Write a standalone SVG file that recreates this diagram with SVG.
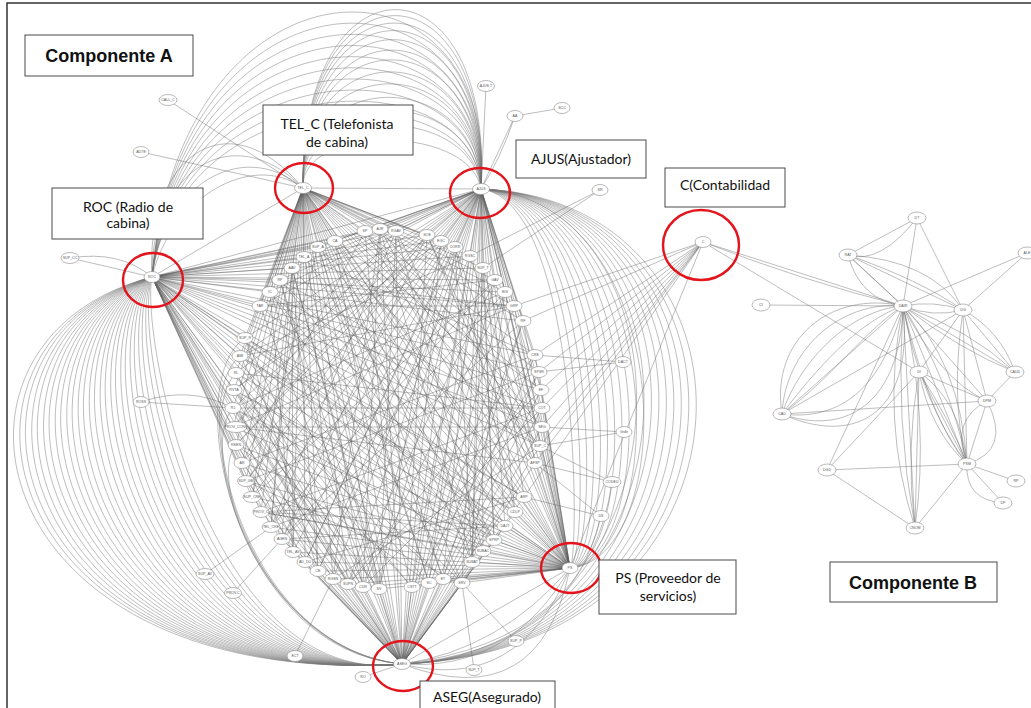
<svg xmlns="http://www.w3.org/2000/svg" width="1031" height="708" viewBox="0 0 1031 708">
<style>
.e{fill:none;stroke:#5e5e5e;stroke-width:.55;stroke-opacity:.75}
.a{fill:none;stroke:#777;stroke-width:.6;stroke-opacity:.8}
.n ellipse{fill:#fff;stroke:#8a8a8a;stroke-width:.6}
.n text{font-family:"Liberation Sans",Arial,sans-serif;font-size:3.6px;fill:#555;text-anchor:middle}
.box rect{fill:#fff;stroke:#4a4a4a;stroke-width:1}
.box text{font-family:Lato,"Open Sans",sans-serif;font-size:14px;fill:#111;text-anchor:middle}
.ttl text{font-family:"Liberation Sans",Arial,sans-serif;font-weight:bold;font-size:18px}
.hl{fill:none;stroke:#e3141b;stroke-width:2.4}
</style>
<rect x="0" y="0" width="1031" height="708" fill="#fff"/>
<rect x="7" y="3" width="1030" height="712" fill="none" stroke="#333" stroke-width="1.5"/>
<g id="connectors">
<path class="e" d="M303 188L260 306M303 188L270 292M303 188L280 280M303 188L292 268M303 188L304 257M303 188L318 247M303 188L335 241M303 188L365 231M303 188L380 229M303 188L396 231M303 188L427 235M303 188L441 241M303 188L455 247M303 188L470 256M303 188L483 268M303 188L495 280M303 188L505 292M303 188L514 306M303 188L523 321M303 188L535 355M303 188L539 372M303 188L541 390M303 188L542 408M303 188L542 427M303 188L540 446M303 188L535 463M303 188L524 497M303 188L515 512M303 188L505 526M303 188L494 540M303 188L483 551M303 188L472 562M303 188L462 583M303 188L443 579M303 188L429 583M303 188L412 587M303 188L379 589M303 188L363 587M303 188L348 584M303 188L333 579M303 188L318 571M303 188L305 562M303 188L293 552M303 188L282 539M303 188L271 527M303 188L261 512M303 188L252 497M303 188L246 481M303 188L242 463M303 188L236 445M303 188L233 427M303 188L233 408M303 188L234 390M303 188L236 373M303 188L240 356M303 188L245 338"/>
<path class="e" d="M481 189L260 306M481 189L270 292M481 189L280 280M481 189L292 268M481 189L304 257M481 189L318 247M481 189L335 241M481 189L365 231M481 189L380 229M481 189L396 231M481 189L427 235M481 189L441 241M481 189L455 247M481 189L470 256M481 189L483 268M481 189L495 280M481 189L505 292M481 189L514 306M481 189L523 321M481 189L535 355M481 189L539 372M481 189L541 390M481 189L542 408M481 189L542 427M481 189L540 446M481 189L535 463M481 189L524 497M481 189L515 512M481 189L505 526M481 189L494 540M481 189L483 551M481 189L472 562M481 189L462 583M481 189L443 579M481 189L429 583M481 189L412 587M481 189L379 589M481 189L363 587M481 189L348 584M481 189L333 579M481 189L318 571M481 189L305 562M481 189L293 552M481 189L282 539M481 189L271 527M481 189L261 512M481 189L252 497M481 189L246 481M481 189L242 463M481 189L236 445M481 189L233 427M481 189L233 408M481 189L234 390M481 189L236 373M481 189L240 356M481 189L245 338"/>
<path class="e" d="M402 664L260 306M402 664L270 292M402 664L280 280M402 664L292 268M402 664L304 257M402 664L318 247M402 664L335 241M402 664L365 231M402 664L380 229M402 664L396 231M402 664L427 235M402 664L441 241M402 664L455 247M402 664L470 256M402 664L483 268M402 664L495 280M402 664L505 292M402 664L514 306M402 664L523 321M402 664L535 355M402 664L539 372M402 664L541 390M402 664L542 408M402 664L542 427M402 664L540 446M402 664L535 463M402 664L524 497M402 664L515 512M402 664L505 526M402 664L494 540M402 664L483 551M402 664L472 562M402 664L462 583M402 664L443 579M402 664L429 583M402 664L412 587M402 664L379 589M402 664L363 587M402 664L348 584M402 664L333 579M402 664L318 571M402 664L305 562M402 664L293 552M402 664L282 539M402 664L271 527M402 664L261 512M402 664L252 497M402 664L246 481M402 664L242 463M402 664L236 445M402 664L233 427M402 664L233 408M402 664L234 390M402 664L236 373M402 664L240 356M402 664L245 338"/>
<path class="e" d="M570 568L260 306M570 568L270 292M570 568L280 280M570 568L292 268M570 568L304 257M570 568L318 247M570 568L335 241M570 568L365 231M570 568L380 229M570 568L396 231M570 568L427 235M570 568L441 241M570 568L455 247M570 568L470 256M570 568L483 268M570 568L495 280M570 568L505 292M570 568L514 306M570 568L523 321M570 568L535 355M570 568L539 372M570 568L541 390M570 568L542 408M570 568L542 427M570 568L540 446M570 568L535 463M570 568L524 497M570 568L515 512M570 568L505 526M570 568L494 540M570 568L483 551M570 568L472 562M570 568L462 583M570 568L443 579M570 568L429 583M570 568L412 587M570 568L379 589M570 568L363 587M570 568L348 584M570 568L333 579M570 568L318 571M570 568L305 562M570 568L293 552M570 568L282 539M570 568L271 527M570 568L261 512M570 568L252 497M570 568L246 481M570 568L242 463M570 568L236 445M570 568L233 427M570 568L233 408M570 568L234 390M570 568L236 373M570 568L240 356M570 568L245 338"/>
<path class="e" d="M152 277L260 306M152 277L270 292M152 277L280 280M152 277L292 268M152 277L304 257M152 277L318 247M152 277L335 241M152 277L365 231M152 277L380 229M152 277L396 231M152 277L427 235M152 277L441 241M152 277L455 247M152 277L470 256M152 277L483 268M152 277L495 280M152 277L505 292M152 277L514 306M152 277L523 321M152 277L535 355M152 277L539 372M152 277L541 390M152 277L542 408M152 277L542 427M152 277L540 446M152 277L535 463M152 277L524 497M152 277L515 512M152 277L505 526M152 277L494 540M152 277L483 551M152 277L472 562M152 277L462 583M152 277L443 579M152 277L429 583M152 277L412 587M152 277L379 589M152 277L363 587M152 277L348 584M152 277L333 579M152 277L318 571M152 277L305 562M152 277L293 552M152 277L282 539M152 277L271 527M152 277L261 512M152 277L252 497M152 277L246 481M152 277L242 463M152 277L236 445M152 277L233 427M152 277L233 408M152 277L234 390M152 277L236 373M152 277L240 356M152 277L245 338"/>
<path class="e" d="M260 306L514 306M270 292L483 551M280 280L542 427M292 268L379 589M304 257L494 540M318 247L540 446M335 241L443 579M365 231L540 446M380 229L363 587M396 231L483 551M427 235L282 539M441 241L379 589M455 247L472 562M470 256L318 571M483 268L472 562M495 280L271 527M505 292L363 587M514 306L233 427M523 321L282 539M535 355L348 584M539 372L246 481M541 390L348 584M542 408L233 408M542 427L271 527M540 446L270 292M535 463L233 427M524 497L261 512M515 512L240 356M505 526L261 512M494 540L280 280M483 551L233 408M472 562L380 229M462 583L270 292M443 579L234 390M429 583L318 247M412 587L234 390M379 589L396 231M363 587L280 280M348 584L495 280M333 579L380 229M318 571L292 268M305 562L455 247M293 552L292 268M282 539L505 292M271 527L396 231M261 512L542 408M252 497L495 280M246 481L427 235M242 463L535 355M236 445L427 235M233 427L542 427M233 408L505 292M234 390L494 540M236 373L542 408M240 356L514 306M245 338L524 497"/>
<path class="e" d="M260 306L495 280M280 280L514 306M304 257L535 355M335 241L541 390M380 229L542 427M427 235L535 463M455 247L515 512M483 268L494 540M505 292L472 562M523 321L443 579M539 372L412 587M542 408L363 587M540 446L333 579M524 497L305 562M505 526L282 539M483 551L261 512M462 583L246 481M429 583L236 445M379 589L233 408M348 584L236 373M318 571L245 338M293 552L270 292M271 527L292 268M252 497L318 247M242 463L365 231M233 427L396 231M234 390L441 241M240 356L470 256"/>
<path class="e" d="M303 188L481 189M152 277L303 188M152 277L481 189M303 188L570 568M481 189L570 568M152 277L402 664M152 277L570 568M402 664L570 568M703 242L523 321M703 242L514 306M703 242L535 355M703 242L539 372M703 242L541 390M703 242L542 408M703 242L542 427M703 242L540 446M703 242L535 463M703 242L524 497M703 242L570 568"/>
<path class="a" d="M303 188C300 124 470 124 481 189M303 188C300 104 472 104 481 189M303 188C300 84 474 84 481 189M303 188C300 67 476 67 481 189M303 188C300 49 478 49 481 189M303 188C300 33 480 33 481 189M303 188C300 17 482 17 481 189M303 188C300 4 484 4 481 189M303 188C300 -10 486 -10 481 189M303 188C300 -22 488 -22 481 189M303 188C300 -32 490 -32 481 189M303 188C300 -42 492 -42 481 189M303 188C300 -50 494 -50 481 189"/>
<path class="a" d="M152 277C180 -60 500 -60 481 189M152 277C180 -45 497 -45 481 189M152 277C180 -30 494 -30 481 189M152 277C180 -15 491 -15 481 189M152 277C180 0 488 0 481 189M152 277C180 15 485 15 481 189M152 277C180 30 482 30 481 189M152 277C180 45 479 45 481 189M152 277C180 60 476 60 481 189M152 277C180 75 473 75 481 189M152 277C170 200 250 150 303 188M152 277C160 190 240 135 303 188M152 277C150 175 230 115 303 188M152 277C145 160 225 95 303 188"/>
<path class="a" d="M481 189C580 200 580 560 570 568M481 189C590 200 590 560 570 568M481 189C600 200 600 560 570 568M481 189C610 200 610 560 570 568M481 189C620 200 620 560 570 568M481 189C630 200 630 560 570 568M481 189C640 200 640 560 570 568M481 189C650 200 650 560 570 568M481 189C660 200 660 560 570 568M481 189C670 200 670 560 570 568M481 189C680 200 680 560 570 568M481 189C700 200 700 650 402 664M481 189C710 200 710 650 402 664M481 189C720 200 720 650 402 664M481 189C730 200 730 650 402 664M481 189C740 200 740 650 402 664M481 189C750 200 750 650 402 664M481 189C760 200 760 650 402 664M481 189C770 200 770 650 402 664M481 189C780 200 780 650 402 664M402 664Q500 650 570 568M402 664Q510 672 570 568M402 664Q520 694 570 568M402 664Q540 716 570 568M402 664Q570 650 601 516M402 664Q590 640 612 482"/>
<path class="a" d="M152 277C-90 340 -20 690 402 664M152 277C-81 340 -11 690 402 664M152 277C-73 340 -3 690 402 664M152 277C-64 340 6 690 402 664M152 277C-56 340 14 690 402 664M152 277C-47 340 23 690 402 664M152 277C-39 340 31 690 402 664M152 277C-30 340 40 690 402 664M152 277C-22 340 48 690 402 664M152 277C-13 340 57 690 402 664M152 277C-5 340 65 690 402 664M152 277C4 340 74 690 402 664M152 277C12 340 82 690 402 664M152 277C21 340 91 690 402 664M152 277C29 340 99 690 402 664M152 277C38 340 108 690 402 664M152 277C46 340 116 690 402 664M152 277C55 340 125 690 402 664M152 277C63 340 133 690 402 664M152 277C72 340 142 690 402 664M152 277C80 340 150 690 402 664M152 277C89 340 159 690 402 664M152 277C97 340 167 690 402 664M152 277C106 340 176 690 402 664M152 277C114 340 184 690 402 664M152 277C123 340 193 690 402 664M152 277C131 340 201 690 402 664M152 277C140 340 210 690 402 664M245 338C180 380 230 650 402 664M240 356C185 400 240 650 402 664M236 373C190 420 250 650 402 664M233 408C195 450 260 650 402 664M236 445C205 480 270 650 402 664"/>
<path class="e" d="M168 100L303 188M141 152L303 188M70 258L152 277M70 258Q120 250 152 277M486 86L481 189M515 116L481 189M515 116Q500 160 481 189M515 116L562 108M600 190L470 256M600 190L483 268M141 402L233 408M141 402Q190 385 233 408M205 574L271 527M233 593L282 539M295 656L333 579M363 677L402 664M474 670L462 583M516 641L462 583M623 362L535 355M623 362L539 372M624 432L540 446M624 432L542 427M612 482L540 446M612 482L535 463M601 516L524 497M601 516L535 463"/>
<path class="a" d="M917 218L848 255M917 218Q880 265 848 255M917 218L903 306M917 218L963 310M848 255Q860 300 903 306M848 255Q880 285 903 306M848 255L903 306M848 255Q930 260 963 310M848 255Q920 280 963 310M848 255L963 310M1027 253L903 306M1027 253L963 310M761 305L903 306M703 242L903 306M703 242Q800 280 903 306M703 242L919 372M903 306Q933 300 963 310M903 306Q933 318 963 310M782 414C770 340 830 290 903 306M782 414C785 350 840 300 903 306M782 414C800 360 850 310 903 306M782 414C815 370 860 320 903 306M782 414C830 380 865 330 903 306M782 414L903 306M782 414C830 420 880 400 903 306M782 414C840 435 900 410 903 306M782 414C850 445 915 420 903 306M903 306L1015 372M903 306Q970 330 1015 372M903 306Q960 350 1015 372M903 306L987 401M903 306Q940 380 987 401M903 306L967 464M903 306Q920 400 967 464M903 306Q950 380 967 464M903 306Q930 420 967 464M903 306Q960 360 967 464M903 306L915 528M903 306Q880 420 915 528M903 306Q895 420 915 528M903 306Q930 420 915 528M903 306L827 470M963 310L1015 372M963 310Q1000 330 1015 372M963 310L967 464M963 310Q950 400 967 464M963 310L782 414M963 310L987 401M963 310L919 372M919 372L967 464M919 372Q930 430 967 464M919 372Q950 420 967 464M919 372Q960 400 967 464M919 372L915 528M919 372Q905 450 915 528M919 372L827 470M919 372L987 401M1015 372L987 401M782 414L987 401M987 401L967 464M987 401Q1012 450 967 464M987 401Q950 420 967 464M967 464L827 470M967 464L1016 481M967 464L1003 503M967 464Q965 500 1003 503M827 470L915 528M967 464L915 528"/>
</g>
<g id="n-tar" class="n"><ellipse cx="260" cy="306" rx="8" ry="5.5"/><text x="260" y="307.3">TAR</text></g>
<g id="n-ic" class="n"><ellipse cx="270" cy="292" rx="8" ry="5.5"/><text x="270" y="293.3">IC</text></g>
<g id="n-rp" class="n"><ellipse cx="280" cy="280" rx="8" ry="5.5"/><text x="280" y="281.3">RP</text></g>
<g id="n-aav" class="n"><ellipse cx="292" cy="268" rx="8" ry="5.5"/><text x="292" y="269.3">AAV</text></g>
<g id="n-tela" class="n"><ellipse cx="304" cy="257" rx="8" ry="5.5"/><text x="304" y="258.3">TEL_A</text></g>
<g id="n-supa" class="n"><ellipse cx="318" cy="247" rx="8" ry="5.5"/><text x="318" y="248.3">SUP_A</text></g>
<g id="n-ca" class="n"><ellipse cx="335" cy="241" rx="8" ry="5.5"/><text x="335" y="242.3">CA</text></g>
<g id="n-sp" class="n"><ellipse cx="365" cy="231" rx="8" ry="5.5"/><text x="365" y="232.3">SP</text></g>
<g id="n-ajr" class="n"><ellipse cx="380" cy="229" rx="8" ry="5.5"/><text x="380" y="230.3">AJR</text></g>
<g id="n-rgav" class="n"><ellipse cx="396" cy="231" rx="8" ry="5.5"/><text x="396" y="232.3">RGAV</text></g>
<g id="n-soe" class="n"><ellipse cx="427" cy="235" rx="8" ry="5.5"/><text x="427" y="236.3">SOE</text></g>
<g id="n-egc" class="n"><ellipse cx="441" cy="241" rx="8" ry="5.5"/><text x="441" y="242.3">EGC</text></g>
<g id="n-corr" class="n"><ellipse cx="455" cy="247" rx="8" ry="5.5"/><text x="455" y="248.3">CORR</text></g>
<g id="n-rgsc" class="n"><ellipse cx="470" cy="256" rx="8" ry="5.5"/><text x="470" y="257.3">RGSC</text></g>
<g id="n-supt" class="n"><ellipse cx="483" cy="268" rx="8" ry="5.5"/><text x="483" y="269.3">SUP_T</text></g>
<g id="n-gav" class="n"><ellipse cx="495" cy="280" rx="8" ry="5.5"/><text x="495" y="281.3">GAV</text></g>
<g id="n-egi" class="n"><ellipse cx="505" cy="292" rx="8" ry="5.5"/><text x="505" y="293.3">EGI</text></g>
<g id="n-grp" class="n"><ellipse cx="514" cy="306" rx="8" ry="5.5"/><text x="514" y="307.3">GRP</text></g>
<g id="n-rf" class="n"><ellipse cx="523" cy="321" rx="8" ry="5.5"/><text x="523" y="322.3">RF</text></g>
<g id="n-cre" class="n"><ellipse cx="535" cy="355" rx="8" ry="5.5"/><text x="535" y="356.3">CRE</text></g>
<g id="n-spsr" class="n"><ellipse cx="539" cy="372" rx="8" ry="5.5"/><text x="539" y="373.3">SPSR</text></g>
<g id="n-ef" class="n"><ellipse cx="541" cy="390" rx="8" ry="5.5"/><text x="541" y="391.3">EF</text></g>
<g id="n-cot" class="n"><ellipse cx="542" cy="408" rx="8" ry="5.5"/><text x="542" y="409.3">COT</text></g>
<g id="n-seg" class="n"><ellipse cx="542" cy="427" rx="8" ry="5.5"/><text x="542" y="428.3">SEG</text></g>
<g id="n-supc" class="n"><ellipse cx="540" cy="446" rx="8" ry="5.5"/><text x="540" y="447.3">SUP_C</text></g>
<g id="n-afsp" class="n"><ellipse cx="535" cy="463" rx="8" ry="5.5"/><text x="535" y="464.3">AFSP</text></g>
<g id="n-arp" class="n"><ellipse cx="524" cy="497" rx="8" ry="5.5"/><text x="524" y="498.3">ARP</text></g>
<g id="n-cdlp" class="n"><ellipse cx="515" cy="512" rx="8" ry="5.5"/><text x="515" y="513.3">CDLP</text></g>
<g id="n-dajt" class="n"><ellipse cx="505" cy="526" rx="8" ry="5.5"/><text x="505" y="527.3">DAJT</text></g>
<g id="n-sprp" class="n"><ellipse cx="494" cy="540" rx="8" ry="5.5"/><text x="494" y="541.3">SPRP</text></g>
<g id="n-subac" class="n"><ellipse cx="483" cy="551" rx="8" ry="5.5"/><text x="483" y="552.3">SUBAC</text></g>
<g id="n-subat" class="n"><ellipse cx="472" cy="562" rx="8" ry="5.5"/><text x="472" y="563.3">SUBAT</text></g>
<g id="n-srv" class="n"><ellipse cx="462" cy="583" rx="8" ry="5.5"/><text x="462" y="584.3">SRV</text></g>
<g id="n-et" class="n"><ellipse cx="443" cy="579" rx="8" ry="5.5"/><text x="443" y="580.3">ET</text></g>
<g id="n-sc" class="n"><ellipse cx="429" cy="583" rx="8" ry="5.5"/><text x="429" y="584.3">SC</text></g>
<g id="n-cstt" class="n"><ellipse cx="412" cy="587" rx="8" ry="5.5"/><text x="412" y="588.3">CSTT</text></g>
<g id="n-sv" class="n"><ellipse cx="379" cy="589" rx="8" ry="5.5"/><text x="379" y="590.3">SV</text></g>
<g id="n-cdr" class="n"><ellipse cx="363" cy="587" rx="8" ry="5.5"/><text x="363" y="588.3">CDR</text></g>
<g id="n-supn" class="n"><ellipse cx="348" cy="584" rx="8" ry="5.5"/><text x="348" y="585.3">SUPN</text></g>
<g id="n-rgsn" class="n"><ellipse cx="333" cy="579" rx="8" ry="5.5"/><text x="333" y="580.3">RGSN</text></g>
<g id="n-ce" class="n"><ellipse cx="318" cy="571" rx="8" ry="5.5"/><text x="318" y="572.3">CE</text></g>
<g id="n-addu" class="n"><ellipse cx="305" cy="562" rx="8" ry="5.5"/><text x="305" y="563.3">AD_DU</text></g>
<g id="n-telav" class="n"><ellipse cx="293" cy="552" rx="8" ry="5.5"/><text x="293" y="553.3">TEL_AV</text></g>
<g id="n-agen" class="n"><ellipse cx="282" cy="539" rx="8" ry="5.5"/><text x="282" y="540.3">AGEN</text></g>
<g id="n-telcre" class="n"><ellipse cx="271" cy="527" rx="9" ry="5.5"/><text x="271" y="528.3">TEL_CRE</text></g>
<g id="n-provc" class="n"><ellipse cx="261" cy="512" rx="8" ry="5.5"/><text x="261" y="513.3">PROV_C</text></g>
<g id="n-supcre" class="n"><ellipse cx="252" cy="497" rx="9" ry="5.5"/><text x="252" y="498.3">SUP_CRE</text></g>
<g id="n-supgm" class="n"><ellipse cx="246" cy="481" rx="8.5" ry="5.5"/><text x="246" y="482.3">SUP_GM</text></g>
<g id="n-ar" class="n"><ellipse cx="242" cy="463" rx="8" ry="5.5"/><text x="242" y="464.3">AR</text></g>
<g id="n-rsen" class="n"><ellipse cx="236" cy="445" rx="8" ry="5.5"/><text x="236" y="446.3">RSEN</text></g>
<g id="n-provcons" class="n"><ellipse cx="236" cy="427" rx="11" ry="5.5"/><text x="236" y="428.3">PROV_CONS</text></g>
<g id="n-rj" class="n"><ellipse cx="233" cy="408" rx="8" ry="5.5"/><text x="233" y="409.3">RJ</text></g>
<g id="n-rvta" class="n"><ellipse cx="234" cy="390" rx="8" ry="5.5"/><text x="234" y="391.3">RVTA</text></g>
<g id="n-rl" class="n"><ellipse cx="236" cy="373" rx="8" ry="5.5"/><text x="236" y="374.3">RL</text></g>
<g id="n-ami" class="n"><ellipse cx="240" cy="356" rx="8" ry="5.5"/><text x="240" y="357.3">AMI</text></g>
<g id="n-supr" class="n"><ellipse cx="245" cy="338" rx="8" ry="5.5"/><text x="245" y="339.3">SUP_R</text></g>
<g id="n-callc" class="n"><ellipse cx="168" cy="100" rx="9" ry="5.5"/><text x="168" y="101.3">CALL_C</text></g>
<g id="n-adte" class="n"><ellipse cx="141" cy="152" rx="8" ry="5.5"/><text x="141" y="153.3">ADTE</text></g>
<g id="n-supcc" class="n"><ellipse cx="70" cy="258" rx="9" ry="5.5"/><text x="70" y="259.3">SUP_CC</text></g>
<g id="n-roc" class="n"><ellipse cx="152" cy="277" rx="8" ry="5.5"/><text x="152" y="278.3">ROC</text></g>
<g id="n-telc" class="n"><ellipse cx="303" cy="188" rx="8.5" ry="5.5"/><text x="303" y="189.3">TEL_C</text></g>
<g id="n-ajus" class="n"><ellipse cx="481" cy="189" rx="8.5" ry="5.5"/><text x="481" y="190.3">AJUS</text></g>
<g id="n-ajust" class="n"><ellipse cx="486" cy="86" rx="8.5" ry="5.5"/><text x="486" y="87.3">AJUS T</text></g>
<g id="n-aa" class="n"><ellipse cx="515" cy="116" rx="8" ry="5.5"/><text x="515" y="117.3">AA</text></g>
<g id="n-scc" class="n"><ellipse cx="562" cy="108" rx="8" ry="5.5"/><text x="562" y="109.3">SCC</text></g>
<g id="n-sr" class="n"><ellipse cx="600" cy="190" rx="8" ry="5.5"/><text x="600" y="191.3">SR</text></g>
<g id="n-c" class="n"><ellipse cx="703" cy="242" rx="8" ry="5.5"/><text x="703" y="243.3">C</text></g>
<g id="n-ross" class="n"><ellipse cx="141" cy="402" rx="8" ry="5.5"/><text x="141" y="403.3">ROSS</text></g>
<g id="n-supav" class="n"><ellipse cx="205" cy="574" rx="9" ry="5.5"/><text x="205" y="575.3">SUP_AV</text></g>
<g id="n-provc2" class="n"><ellipse cx="233" cy="593" rx="8.5" ry="5.5"/><text x="233" y="594.3">PROV.C</text></g>
<g id="n-ect" class="n"><ellipse cx="295" cy="656" rx="8" ry="5.5"/><text x="295" y="657.3">ECT</text></g>
<g id="n-ro" class="n"><ellipse cx="363" cy="677" rx="8" ry="5.5"/><text x="363" y="678.3">RO</text></g>
<g id="n-aseg" class="n"><ellipse cx="402" cy="664" rx="8.5" ry="5.5"/><text x="402" y="665.3">ASEG</text></g>
<g id="n-supt2" class="n"><ellipse cx="474" cy="670" rx="8" ry="5.5"/><text x="474" y="671.3">SUP_T</text></g>
<g id="n-supp" class="n"><ellipse cx="516" cy="641" rx="8" ry="5.5"/><text x="516" y="642.3">SUP_P</text></g>
<g id="n-ps" class="n"><ellipse cx="570" cy="568" rx="8" ry="5.5"/><text x="570" y="569.3">PS</text></g>
<g id="n-ds" class="n"><ellipse cx="601" cy="516" rx="8" ry="5.5"/><text x="601" y="517.3">DS</text></g>
<g id="n-codeu" class="n"><ellipse cx="612" cy="482" rx="9" ry="5.5"/><text x="612" y="483.3">CODEU</text></g>
<g id="n-grde" class="n"><ellipse cx="624" cy="432" rx="8" ry="5.5"/><text x="624" y="433.3">Grde</text></g>
<g id="n-dact" class="n"><ellipse cx="623" cy="362" rx="8" ry="5.5"/><text x="623" y="363.3">DACT</text></g>
<g id="n-dt" class="n"><ellipse cx="917" cy="218" rx="9" ry="6"/><text x="917" y="219.3">DT</text></g>
<g id="n-rat" class="n"><ellipse cx="848" cy="255" rx="9" ry="6"/><text x="848" y="256.3">RAT</text></g>
<g id="n-ale" class="n"><ellipse cx="1027" cy="253" rx="9" ry="6"/><text x="1027" y="254.3">ALE</text></g>
<g id="n-ci" class="n"><ellipse cx="761" cy="305" rx="9" ry="6"/><text x="761" y="306.3">CI</text></g>
<g id="n-dair" class="n"><ellipse cx="903" cy="306" rx="9" ry="6"/><text x="903" y="307.3">DAIR</text></g>
<g id="n-dg" class="n"><ellipse cx="963" cy="310" rx="9" ry="6"/><text x="963" y="311.3">DG</text></g>
<g id="n-di" class="n"><ellipse cx="919" cy="372" rx="9" ry="6"/><text x="919" y="373.3">DI</text></g>
<g id="n-caud" class="n"><ellipse cx="1015" cy="372" rx="9" ry="6"/><text x="1015" y="373.3">CAUD</text></g>
<g id="n-dpm" class="n"><ellipse cx="987" cy="401" rx="9" ry="6"/><text x="987" y="402.3">DPM</text></g>
<g id="n-cad" class="n"><ellipse cx="782" cy="414" rx="9" ry="6"/><text x="782" y="415.3">CAD</text></g>
<g id="n-psm" class="n"><ellipse cx="967" cy="464" rx="9" ry="6"/><text x="967" y="465.3">PSM</text></g>
<g id="n-dgd" class="n"><ellipse cx="827" cy="470" rx="9" ry="6"/><text x="827" y="471.3">DGD</text></g>
<g id="n-rp2" class="n"><ellipse cx="1016" cy="481" rx="9" ry="6"/><text x="1016" y="482.3">RP</text></g>
<g id="n-dp" class="n"><ellipse cx="1003" cy="503" rx="9" ry="6"/><text x="1003" y="504.3">DP</text></g>
<g id="n-cnom" class="n"><ellipse cx="915" cy="528" rx="9" ry="6"/><text x="915" y="529.3">CNOM</text></g>
<g id="highlights">
<ellipse class="hl" cx="304" cy="188" rx="29" ry="25"/>
<ellipse class="hl" cx="153" cy="280" rx="30" ry="27"/>
<ellipse class="hl" cx="480" cy="193" rx="30" ry="25"/>
<ellipse class="hl" cx="701" cy="245" rx="38" ry="35"/>
<ellipse class="hl" cx="571" cy="568" rx="30" ry="25"/>
<ellipse class="hl" cx="403" cy="666" rx="30" ry="25"/>
</g>
<g id="label-compA" class="box ttl"><rect x="25" y="35" width="168" height="41"/><text x="109" y="62">Componente A</text></g>
<g id="label-compB" class="box ttl"><rect x="830" y="562" width="167" height="40"/><text x="913" y="589">Componente B</text></g>
<g id="label-telc" class="box"><rect x="263" y="105" width="150" height="50"/><text x="337" y="129">TEL_C (Telefonista</text><text x="337" y="147">de cabina)</text></g>
<g id="label-roc" class="box"><rect x="52" y="188" width="151" height="51"/><text x="128" y="212">ROC (Radio de</text><text x="128" y="228">cabina)</text></g>
<g id="label-ajus" class="box"><rect x="516" y="140" width="130" height="38"/><text x="581" y="164">AJUS(Ajustador)</text></g>
<g id="label-c" class="box"><rect x="665" y="168" width="120" height="39"/><text x="725" y="190">C(Contabilidad</text></g>
<g id="label-ps" class="box"><rect x="599" y="560" width="137" height="54"/><text x="668" y="583">PS (Proveedor de</text><text x="668" y="601">servicios)</text></g>
<g id="label-aseg" class="box"><rect x="420" y="681" width="135" height="40"/><text x="487" y="702">ASEG(Asegurado)</text></g>
</svg>
